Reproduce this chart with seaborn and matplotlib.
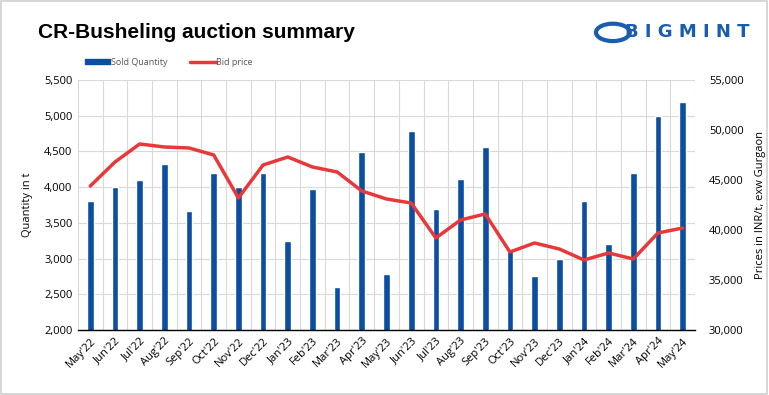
import pandas as pd
import seaborn as sns
import matplotlib.pyplot as plt
from matplotlib.patches import Rectangle, Circle
from matplotlib.lines import Line2D

months = ["May'22", "Jun'22", "Jul'22", "Aug'22", "Sep'22", "Oct'22", "Nov'22", "Dec'22",
          "Jan'23", "Feb'23", "Mar'23", "Apr'23", "May'23", "Jun'23", "Jul'23", "Aug'23",
          "Sep'23", "Oct'23", "Nov'23", "Dec'23", "Jan'24", "Feb'24", "Mar'24", "Apr'24", "May'24"]
sold_qty = [3800, 4000, 4100, 4320, 3660, 4200, 4000, 4200, 3240, 3970, 2600, 4490, 2790,
            4780, 3690, 4120, 4560, 3100, 2750, 2990, 3800, 3200, 4200, 5000, 5190]
bid_price = [44400, 46800, 48600, 48300, 48200, 47500, 43200, 46500, 47300, 46300, 45800, 43900,
             43100, 42700, 39200, 41000, 41600, 37800, 38700, 38100, 37000, 37700, 37100, 39700, 40200]

BLUE = "#0B4EA2"
RED = "#E8383A"

df = pd.DataFrame({"Month": months, "Qty": sold_qty, "Price": bid_price})
df["idx"] = range(len(df))

sns.set_style("white")
plt.rcParams['font.family'] = ['Open Sans', 'DejaVu Sans']
plt.rcParams['text.color'] = 'black'
plt.rcParams['axes.labelcolor'] = 'black'
plt.rcParams['xtick.color'] = 'black'
plt.rcParams['ytick.color'] = 'black'

fig = plt.figure(figsize=(7.69, 3.95), dpi=100)
ax = fig.add_axes([0.1014, 0.1646, 0.8024, 0.6329])

sns.barplot(data=df, x="Month", y="Qty", color=BLUE, width=0.27, saturation=1, ax=ax, zorder=2)
ax.set_ylim(2000, 5500)
ax.set_xlim(-0.5, len(months) - 0.5)
ax.set_yticks(range(2000, 5501, 500))
ax.set_yticklabels([f"{v:,}" for v in range(2000, 5501, 500)], fontsize=8)
ax.set_xlabel("")
ax.set_ylabel("Quantity in t", fontsize=8, labelpad=8)
ax.set_xticks(range(len(months)))
ax.set_xticklabels(months, rotation=45, ha="right", rotation_mode="anchor", fontsize=8)
ax.tick_params(axis="both", length=0, pad=4)
for x in range(len(months) + 1):
    ax.axvline(x - 0.5, color="#d9d9d9", lw=0.8, zorder=0)
ax.yaxis.grid(True, color="#d9d9d9", lw=0.8)
ax.set_axisbelow(True)
for s in ["left", "right", "top"]:
    ax.spines[s].set_visible(False)
ax.spines["bottom"].set_color("black")
ax.spines["bottom"].set_linewidth(1)

ax2 = ax.twinx()
sns.lineplot(data=df, x="idx", y="Price", color=RED, lw=2.5, ax=ax2, zorder=3)
ax2.set_ylim(30000, 55000)
ax2.set_xlim(-0.5, len(months) - 0.5)
ax2.set_yticks(range(30000, 55001, 5000))
ax2.set_yticklabels([f"{v:,}" for v in range(30000, 55001, 5000)], fontsize=8)
ax2.set_ylabel("Prices in INR/t, exw Gurgaon", fontsize=8, labelpad=8)
ax2.tick_params(axis="both", length=0, pad=10)
for s in ax2.spines.values():
    s.set_visible(False)

# legend
handles = [Rectangle((0, 0), 1, 1, color=BLUE), Line2D([0], [0], color=RED, lw=2.5)]
fig.legend(handles, ["Sold Quantity", "Bid price"], loc="center left", bbox_to_anchor=(0.1, 0.843),
           ncol=2, frameon=False, fontsize=6.5, handlelength=2.8, handleheight=0.5,
           handletextpad=0.1, columnspacing=2.5, labelcolor="#555555")

# title and logo
fig.text(0.049, 0.918, "CR-Busheling auction summary", fontsize=15, fontweight="bold",
         family="Liberation Sans", va="center", ha="left", color="black")
fig.text(0.975, 0.918, "B I G M I N T", fontsize=13, fontweight="bold", color="#1a5db0",
         va="center", ha="right", family="DejaVu Sans")
fig.patches.append(Circle((0.797, 0.918), 0.022, transform=fig.transFigure, facecolor="white",
                          edgecolor="#1a5db0", lw=3))

# outer border
fig.patches.append(Rectangle((0.001, 0.002), 0.997, 0.995, transform=fig.transFigure,
                             fill=False, edgecolor="#d0d0d0", lw=1.2))

fig.savefig("out.png", dpi=100)
